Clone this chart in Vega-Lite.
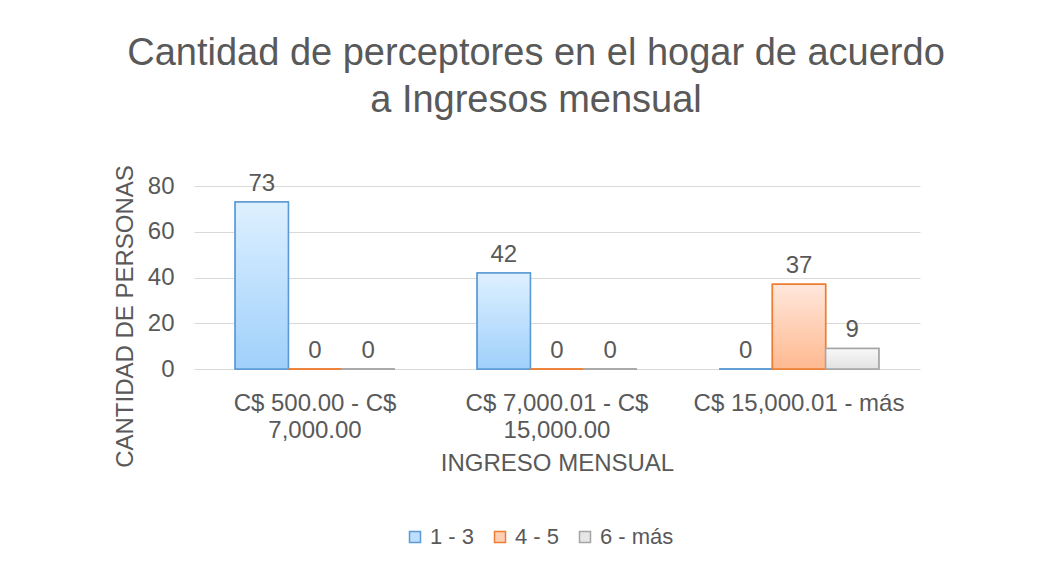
{
  "$schema": "https://vega.github.io/schema/vega-lite/v6.json",
  "autosize": "none",
  "width": 726,
  "height": 183,
  "padding": {"left": 194, "top": 186, "right": 133, "bottom": 200},
  "background": "white",
  "title": {
    "text": ["Cantidad de perceptores en el hogar de acuerdo", "a Ingresos mensual"],
    "fontSize": 38,
    "font": "Liberation Sans",
    "fontWeight": "normal",
    "color": "#595959",
    "lineHeight": 47,
    "anchor": "middle",
    "dx": -21,
    "offset": 45
  },
  "config": {
    "font": "Liberation Sans",
    "view": {"stroke": null},
    "axis": {"labelColor": "#595959", "titleColor": "#595959", "labelFont": "Liberation Sans", "titleFont": "Liberation Sans", "titleFontWeight": "normal"}
  },
  "data": {
    "values": [
      {"ingreso": "C$ 500.00 - C$ 7,000.00", "serie": "1 - 3", "personas": 73},
      {"ingreso": "C$ 500.00 - C$ 7,000.00", "serie": "4 - 5", "personas": 0},
      {"ingreso": "C$ 500.00 - C$ 7,000.00", "serie": "6 - más", "personas": 0},
      {"ingreso": "C$ 7,000.01 - C$ 15,000.00", "serie": "1 - 3", "personas": 42},
      {"ingreso": "C$ 7,000.01 - C$ 15,000.00", "serie": "4 - 5", "personas": 0},
      {"ingreso": "C$ 7,000.01 - C$ 15,000.00", "serie": "6 - más", "personas": 0},
      {"ingreso": "C$ 15,000.01 - más", "serie": "1 - 3", "personas": 0},
      {"ingreso": "C$ 15,000.01 - más", "serie": "4 - 5", "personas": 37},
      {"ingreso": "C$ 15,000.01 - más", "serie": "6 - más", "personas": 9}
    ]
  },
  "encoding": {
    "x": {
      "field": "ingreso", "type": "nominal", "sort": null,
      "scale": {"paddingInner": 0.34, "paddingOuter": 0.17},
      "axis": {
        "title": "INGRESO MENSUAL", "titleFontSize": 24, "titlePadding": 9,
        "labelFontSize": 24, "labelAngle": 0, "labelPadding": 22, "labelLineHeight": 27,
        "labelBaseline": "top", "labelLimit": 0,
        "labelExpr": "datum.value == 'C$ 500.00 - C$ 7,000.00' ? ['C$ 500.00 - C$', '7,000.00'] : datum.value == 'C$ 7,000.01 - C$ 15,000.00' ? ['C$ 7,000.01 - C$', '15,000.00'] : datum.value",
        "ticks": false, "domain": false, "grid": false
      }
    },
    "xOffset": {"field": "serie", "type": "nominal", "sort": null, "scale": {"paddingInner": 0, "paddingOuter": 0}},
    "y": {
      "field": "personas", "type": "quantitative",
      "scale": {"domain": [0, 80], "nice": false},
      "axis": {
        "title": "CANTIDAD DE PERSONAS", "titleFontSize": 24, "labelFontSize": 24,
        "values": [0, 20, 40, 60, 80], "labelPadding": 20,
        "ticks": false, "domain": false, "grid": true, "gridColor": "#d9d9d9", "gridWidth": 1.2,
        "titleX": -69, "titleY": 130, "titleAngle": -90, "titleAlign": "center", "titleBaseline": "middle"
      }
    }
  },
  "layer": [
    {
      "mark": {"type": "bar", "strokeWidth": 1.5},
      "encoding": {
        "color": {
          "field": "serie", "type": "nominal", "sort": null,
          "scale": {"domain": ["1 - 3", "4 - 5", "6 - más"], "range": ["#bddeff", "#ffcfb5", "#e6e6e6"]},
          "legend": {
            "title": null, "orient": "none", "direction": "horizontal",
            "legendX": 210, "legendY": 340,
            "labelFontSize": 22, "labelColor": "#595959", "labelFont": "Liberation Sans",
            "symbolType": "square", "symbolSize": 121, "symbolStrokeWidth": 1.5,
            "labelOffset": 4, "columnPadding": 14, "padding": 0
          }
        },
        "stroke": {
          "field": "serie", "type": "nominal", "sort": null,
          "scale": {"domain": ["1 - 3", "4 - 5", "6 - más"], "range": ["#5b9bd5", "#ed7d31", "#a5a5a5"]}
        }
      }
    },
    {
      "mark": {"type": "bar", "strokeWidth": 1.5},
      "encoding": {
        "fill": {
          "condition": [
            {"test": "datum.serie == '1 - 3'", "value": {"gradient": "linear", "x1": 0, "y1": 0, "x2": 0, "y2": 1, "stops": [{"offset": 0, "color": "#def0ff"}, {"offset": 1, "color": "#9fd0fb"}]}},
            {"test": "datum.serie == '4 - 5'", "value": {"gradient": "linear", "x1": 0, "y1": 0, "x2": 0, "y2": 1, "stops": [{"offset": 0, "color": "#ffe7dc"}, {"offset": 1, "color": "#ffb990"}]}}
          ],
          "value": {"gradient": "linear", "x1": 0, "y1": 0, "x2": 0, "y2": 1, "stops": [{"offset": 0, "color": "#f8f8f8"}, {"offset": 1, "color": "#e2e2e2"}]}
        },
        "stroke": {
          "condition": [
            {"test": "datum.serie == '1 - 3'", "value": "#5b9bd5"},
            {"test": "datum.serie == '4 - 5'", "value": "#ed7d31"}
          ],
          "value": "#a5a5a5"
        }
      }
    },
    {
      "mark": {"type": "text", "baseline": "bottom", "dy": -6, "fontSize": 24, "color": "#595959", "font": "Liberation Sans"},
      "encoding": {"text": {"field": "personas", "type": "quantitative"}}
    }
  ]
}
